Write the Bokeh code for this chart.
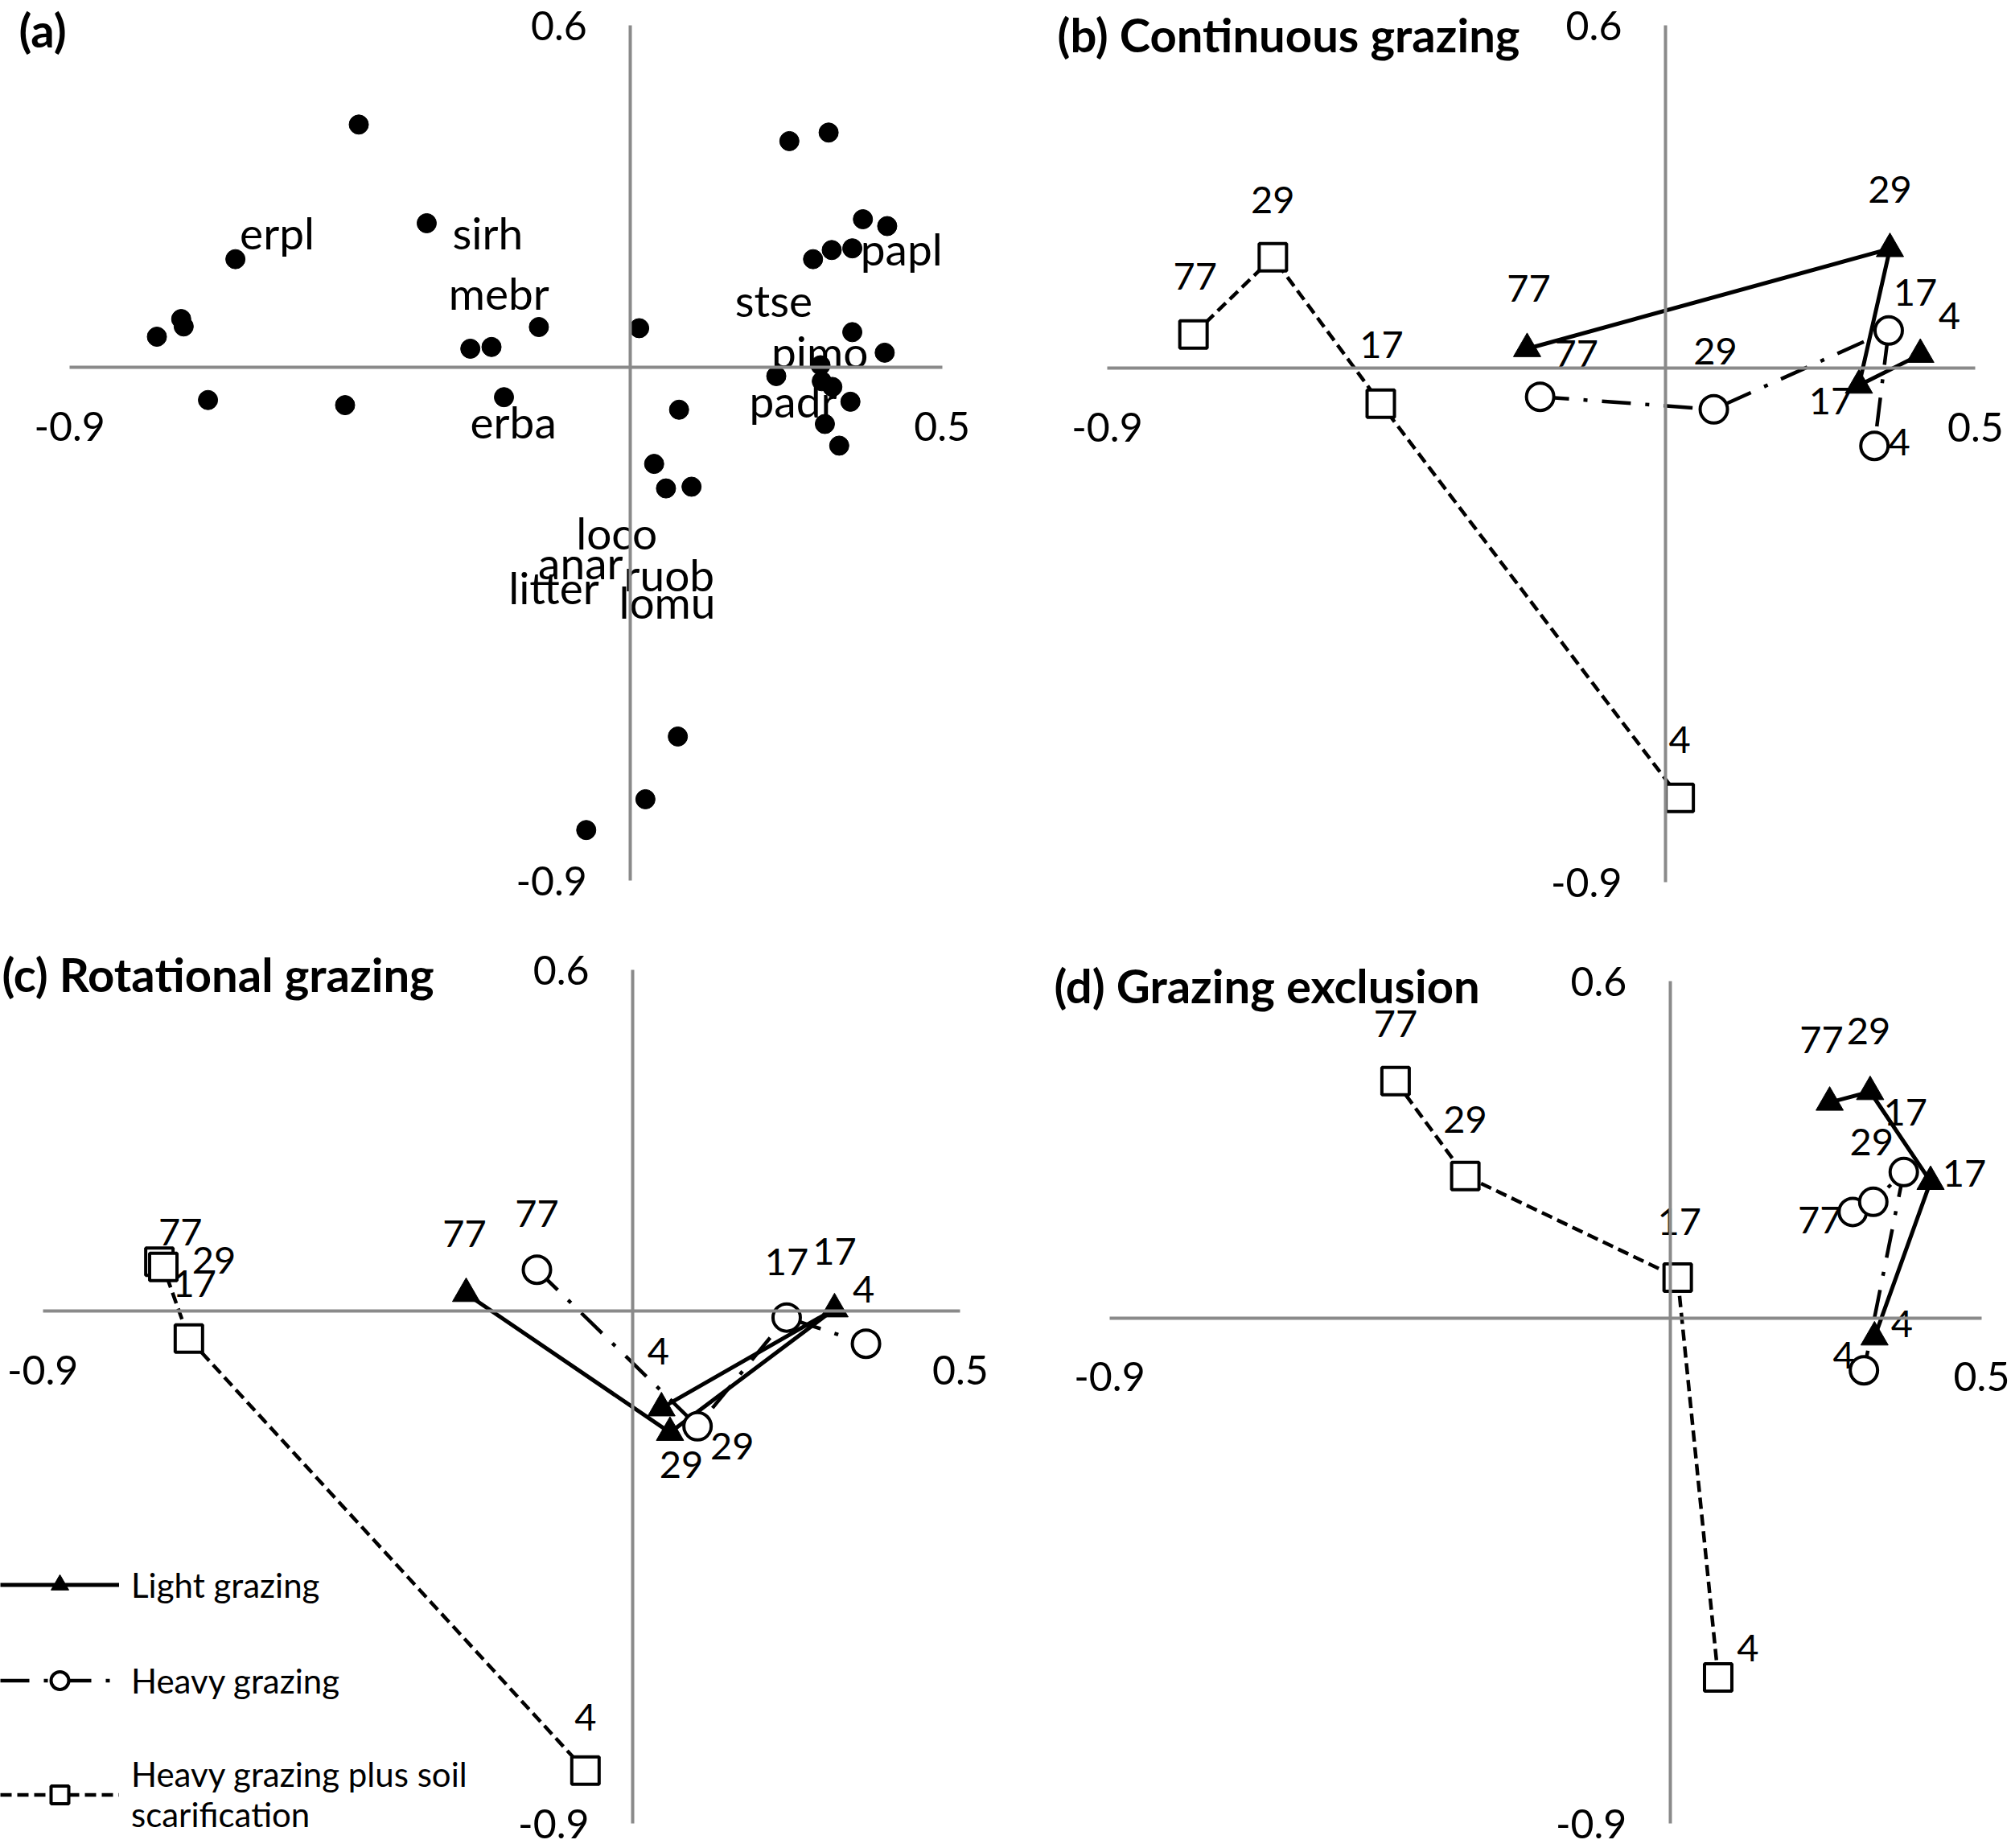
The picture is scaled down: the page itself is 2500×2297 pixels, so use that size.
from bokeh.plotting import figure
from bokeh.models import LinearAxis, FixedTicker, Label, Legend, LegendItem, Range1d
from bokeh.layouts import column, row
from bokeh.embed import file_html
from bokeh.resources import INLINE
from bokeh.core.properties import value

FONT = "Lato"

# ---------------- data ----------------
# (a) species / litter scores
species_x = [-0.436, 0.255, 0.318, -0.327, 0.373, 0.412, 0.323, 0.356, 0.293,
             -0.634, -0.721, -0.717, -0.760, -0.257, -0.223, -0.147, 0.014, 0.356,
             0.408, 0.305, 0.234, 0.307, 0.324, 0.353, 0.312, 0.335, -0.678,
             -0.458, -0.203, 0.078, 0.038, 0.057, 0.098, 0.076, 0.024, -0.071]
species_y = [0.426, 0.397, 0.412, 0.253, 0.260, 0.248, 0.206, 0.209, 0.190,
             0.190, 0.085, 0.072, 0.054, 0.033, 0.036, 0.071, 0.069, 0.062,
             0.026, 0.004, -0.015, -0.024, -0.034, -0.060, -0.099, -0.137, -0.057,
             -0.066, -0.052, -0.074, -0.169, -0.212, -0.209, -0.647, -0.757, -0.811]
species_names = ["erpl", "sirh", "mebr", "stse", "papl", "pimo", "padr", "erba",
                 "loco", "anar", "ruob", "litter", "lomu"]
species_label_x = [-0.567, -0.229, -0.211, 0.230, 0.435, 0.304, 0.261, -0.188,
                   -0.022, -0.080, 0.062, -0.123, 0.059]
species_label_y = [0.237, 0.237, 0.131, 0.118, 0.209, 0.028, -0.058, -0.095,
                   -0.290, -0.342, -0.363, -0.385, -0.411]

# sampling times (labels), trajectory order
years = ["77", "29", "17", "4"]

# (b) Continuous grazing
b_light_x = [-0.223, 0.362, 0.312, 0.411]
b_light_y = [0.034, 0.209, -0.030, 0.024]
b_heavy_x = [-0.202, 0.078, 0.360, 0.337]
b_heavy_y = [-0.050, -0.072, 0.066, -0.136]
b_scar_x = [-0.761, -0.633, -0.459, 0.023]
b_scar_y = [0.059, 0.194, -0.062, -0.752]

# (c) Rotational grazing
c_light_x = [-0.254, 0.057, 0.308, 0.044]
c_light_y = [0.031, -0.213, 0.004, -0.170]
c_heavy_x = [-0.146, 0.099, 0.235, 0.356]
c_heavy_y = [0.073, -0.202, -0.011, -0.057]
c_scar_x = [-0.722, -0.716, -0.677, -0.072]
c_scar_y = [0.087, 0.078, -0.048, -0.807]

# (d) Grazing exclusion
d_light_x = [0.256, 0.321, 0.418, 0.328]
d_light_y = [0.384, 0.403, 0.243, -0.034]
d_heavy_x = [0.293, 0.326, 0.375, 0.311]
d_heavy_y = [0.189, 0.207, 0.260, -0.093]
d_scar_x = [-0.441, -0.329, 0.012, 0.077]
d_scar_y = [0.422, 0.253, 0.072, -0.640]

x_ticks = [-0.9, 0.5]
y_ticks = [-0.9, 0.6]

# ---------------- label placement (screen px: right, down) ----------------
b_light_off = [(2, -75), (0, -74), (-35, 20), (36, -48)]
b_heavy_off = [(45, -54), (2, -72), (33, -47), (31, -5)]
b_scar_off = [(2, -72), (0, -71), (1, -73), (0, -72)]
c_light_off = [(-2, -74), (14, 40), (0, -72), (-4, -71)]
c_heavy_off = [(0, -70), (43, 25), (0, -69), (-3, -68)]
c_scar_off = [(26, -37), (63, -8), (7, -68), (0, -66)]
d_light_off = [(-10, -78), (-2, -76), (42, -10), (34, -17)]
d_heavy_off = [(-41, 10), (-2, -74), (2, -74), (-25, -19)]
d_scar_off = [(0, -71), (0, -70), (2, -70), (37, -37)]

# ---------------- layout geometry (page px) ----------------
# figure box: left, top, width, height ; edges: px at x=-0.9, x=0.5, y=0.6, y=-0.9
GEOM = {
    "a": ((0, 0, 1250, 1150), (86.1, 1170.6, 31.0, 1094.3)),
    "b": ((1250, 0, 1250, 1150), (1376.0, 2455.4, 31.0, 1096.4)),
    "c": ((0, 1150, 1250, 1147), (52.6, 1193.4, 1205.0, 2266.0)),
    "d": ((1250, 1150, 1250, 1147), (1379.0, 2463.0, 1219.0, 2266.0)),
}

AXIS_COLOR = "#8a8a8a"
TICK_SIZE = "50px"
DATA_LABEL_SIZE = "47px"


def make_fig(key):
    (L, T, W, H), (xl, xr, yt, yb) = GEOM[key]
    kx = (xr - xl) / (x_ticks[1] - x_ticks[0])
    ky = (yb - yt) / (y_ticks[1] - y_ticks[0])
    x0 = x_ticks[0] - (xl - L) / kx
    x1 = x_ticks[1] + (L + W - xr) / kx
    y1 = y_ticks[1] + (yt - T) / ky
    y0 = y_ticks[0] - (T + H - yb) / ky
    p = figure(width=W, height=H, x_range=Range1d(x0, x1), y_range=Range1d(y0, y1),
               output_backend="svg", toolbar_location=None,
               x_axis_type=None, y_axis_type=None, min_border=0)
    p.outline_line_color = None
    p.background_fill_color = "white"
    xa = LinearAxis(fixed_location=0, ticker=FixedTicker(ticks=x_ticks), bounds=(x_ticks[0], x_ticks[1]),
                    major_label_overrides={x_ticks[0]: "-0.9", x_ticks[1]: "0.5"})
    ya = LinearAxis(fixed_location=0, ticker=FixedTicker(ticks=y_ticks), bounds=(y_ticks[0], y_ticks[1]),
                    major_label_overrides={y_ticks[0]: "-0.9", y_ticks[1]: "0.6"})
    for ax in (xa, ya):
        ax.axis_line_color = AXIS_COLOR
        ax.axis_line_width = 4
        ax.major_tick_line_color = None
        ax.minor_tick_line_color = None
        ax.major_tick_in = 0
        ax.major_tick_out = 0
        ax.major_label_text_font = FONT
        ax.major_label_text_font_size = TICK_SIZE
        ax.major_label_text_color = "black"
    xa.major_label_standoff = 55
    ya.major_label_standoff = 54
    p.add_layout(xa, "below")
    p.add_layout(ya, "left")
    return p


def add_title(p, key, text, x, y_center):
    (L, T, W, H), _ = GEOM[key]
    p.add_layout(Label(x=x - L, y=(T + H) - y_center, x_units="screen", y_units="screen",
                       text=text, text_font=FONT, text_font_style="bold",
                       text_font_size="58px", text_baseline="middle", text_align="left",
                       text_color="black"))


def add_trajectories(p, lx, ly, hx, hy, sx, sy, loff, hoff, soff):
    r_sl = p.line(sx, sy, line_color="black", line_width=4.5, line_dash="14 7")
    r_hl = p.line(hx, hy, line_color="black", line_width=4.5, line_dash="36 18 5 18")
    r_ll = p.line(lx, ly, line_color="black", line_width=5)
    r_sp = p.scatter(sx, sy, marker="square", size=34, fill_color="white", line_color="black", line_width=4)
    r_hp = p.scatter(hx, hy, marker="circle", size=34, fill_color="white", line_color="black", line_width=4)
    r_lp = p.scatter(lx, ly, marker="triangle", size=34, fill_color="black", line_color="black", line_width=1)
    for xs, ys, off in ((sx, sy, soff), (hx, hy, hoff), (lx, ly, loff)):
        p.text(x=xs, y=ys, text=years, x_offset=[o[0] for o in off], y_offset=[o[1] for o in off],
               text_font=value(FONT), text_font_size=value(DATA_LABEL_SIZE), text_color="black",
               text_align="center", text_baseline="middle")
    return (r_ll, r_lp), (r_hl, r_hp), (r_sl, r_sp)


# ---------------- (a) ----------------
pa = make_fig("a")
pa.scatter(species_x, species_y, marker="circle", size=24, fill_color="black", line_color="black")
pa.text(x=species_label_x, y=species_label_y, text=species_names, text_font=value(FONT),
        text_font_size=value("55px"), text_color="black", text_align="center", text_baseline="middle")
add_title(pa, "a", "(a)", 23, 36)

# ---------------- (b) ----------------
pb = make_fig("b")
add_trajectories(pb, b_light_x, b_light_y, b_heavy_x, b_heavy_y, b_scar_x, b_scar_y,
                 b_light_off, b_heavy_off, b_scar_off)
add_title(pb, "b", "(b) Continuous grazing", 1314, 42)

# ---------------- (c) ----------------
pc = make_fig("c")
(lr, hr, sr) = add_trajectories(pc, c_light_x, c_light_y, c_heavy_x, c_heavy_y, c_scar_x, c_scar_y,
                                c_light_off, c_heavy_off, c_scar_off)
add_title(pc, "c", "(c) Rotational grazing", 2, 1210)
legend = Legend(items=[LegendItem(label="Light grazing", renderers=list(lr)),
                       LegendItem(label="Heavy grazing", renderers=list(hr)),
                       LegendItem(label="Heavy grazing plus soil\nscarification", renderers=list(sr))],
                location=(0, 17), padding=0, margin=0, spacing=64,
                glyph_width=148, glyph_height=55, label_height=55, label_standoff=15,
                label_text_font=FONT, label_text_font_size="42px", label_text_color="black",
                border_line_color=None, background_fill_alpha=0)
pc.add_layout(legend)

# ---------------- (d) ----------------
pd_ = make_fig("d")
add_trajectories(pd_, d_light_x, d_light_y, d_heavy_x, d_heavy_y, d_scar_x, d_scar_y,
                 d_light_off, d_heavy_off, d_scar_off)
add_title(pd_, "d", "(d) Grazing exclusion", 1310, 1224)

layout = column(row(pa, pb), row(pc, pd_))
open("out.html", "w").write(file_html(layout, INLINE))
